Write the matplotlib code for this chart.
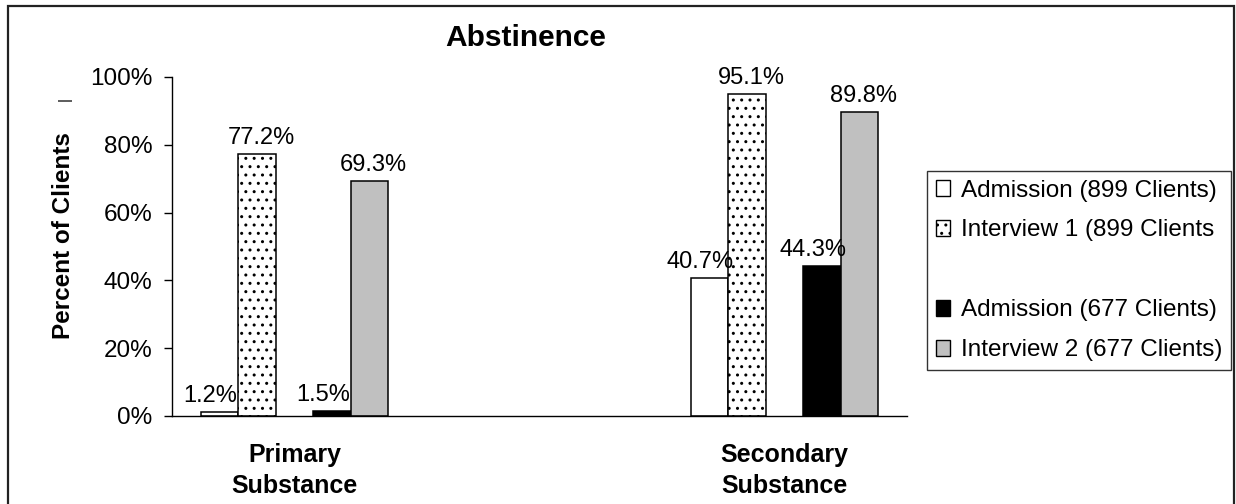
import matplotlib
matplotlib.use("Agg")
import matplotlib.pyplot as plt
from matplotlib.patches import Patch, Rectangle
import numpy as np

plt.rcParams['font.family'] = ['Liberation Sans', 'DejaVu Sans']
plt.rcParams['hatch.linewidth'] = 1.0

# Data
categories = ['Primary\nSubstance', 'Secondary\nSubstance']
series_names = ['Admission (899 Clients)', 'Interview 1 (899 Clients',
                'Admission (677 Clients)', 'Interview 2 (677 Clients)']
admission_899 = [1.2, 40.7]
interview_1 = [77.2, 95.1]
admission_677 = [1.5, 44.3]
interview_2 = [69.3, 89.8]
y_ticks = [0, 20, 40, 60, 80, 100]

series_values = [admission_899, interview_1, admission_677, interview_2]
# slot 2 is left empty between the two sample groups
slots = [0, 1, 3, 4]
fills = ['white', 'white', 'black', '#c0c0c0']
hatches = [None, '..', None, None]
label_dx = [-6.5, 3, -6.5, 3]

fig = plt.figure(figsize=(12.36, 5.04), dpi=100)
ax = fig.add_axes([172 / 1236, 88 / 504, 735 / 1236, 339 / 504])

x = np.arange(len(categories))
width = 0.0765

handles = []
for vals, slot, fc, h, dx, name in zip(series_values, slots, fills, hatches,
                                       label_dx, series_names):
    bars = ax.bar(x + (slot - 2) * width, vals, width, color=fc, hatch=h,
                  edgecolor='black', linewidth=1.1)
    for b, v in zip(bars, vals):
        ax.annotate(f'{v:.1f}%', (b.get_x() + b.get_width() / 2, v),
                    xytext=(dx, 3.5), textcoords='offset points',
                    ha='center', va='bottom', fontsize=17)
    handles.append(Patch(facecolor=fc, hatch=h, edgecolor='black',
                         linewidth=1.0, label=name))

ax.set_xlim(-0.25, 1.25)
ax.set_ylim(0, 100)
ax.set_yticks(y_ticks)
ax.set_yticklabels([f'{t}%' for t in y_ticks], fontsize=17.5)
ax.set_xticks(x)
ax.set_xticklabels(categories, fontsize=18, fontweight='bold',
                   linespacing=1.35)
ax.tick_params(axis='x', length=0, pad=19.5)
ax.tick_params(axis='y', length=6, width=1, pad=8)
for side in ['top', 'right']:
    ax.spines[side].set_visible(False)
for side in ['left', 'bottom']:
    ax.spines[side].set_linewidth(1.0)

# Legend with a blank row between the two groups
blank = Patch(facecolor='none', edgecolor='none', label=' ')
leg_handles = handles[:2] + [blank] + handles[2:]
leg = fig.legend(handles=leg_handles, loc='upper left',
                 bbox_to_anchor=(927 / 1236, 1 - 171 / 504),
                 fontsize=17.5, frameon=True, fancybox=False,
                 edgecolor='black', handlelength=0.6, handleheight=0.6,
                 handletextpad=0.45, labelspacing=0.74, borderpad=0.35,
                 borderaxespad=0)
leg.get_frame().set_linewidth(1.0)

fig.text(526 / 1236, 1 - 38 / 504, 'Abstinence', ha='center', va='center',
         fontsize=21.5, fontweight='bold')
fig.text(63 / 1236, 1 - 236 / 504, 'Percent of Clients', rotation=90,
         ha='center', va='center', fontsize=17.5, fontweight='bold')
fig.text(65 / 1236, 1 - 99 / 504, '|', rotation=90, ha='center',
         va='center', fontsize=11)

# Outer chart frame
fig.patches.append(Rectangle((8 / 1236, -0.05), 1226 / 1236, 1.05 - 6 / 504,
                             transform=fig.transFigure, fill=False,
                             edgecolor='#222222', linewidth=1.6,
                             clip_on=False))

fig.savefig('out.png', dpi=100)
